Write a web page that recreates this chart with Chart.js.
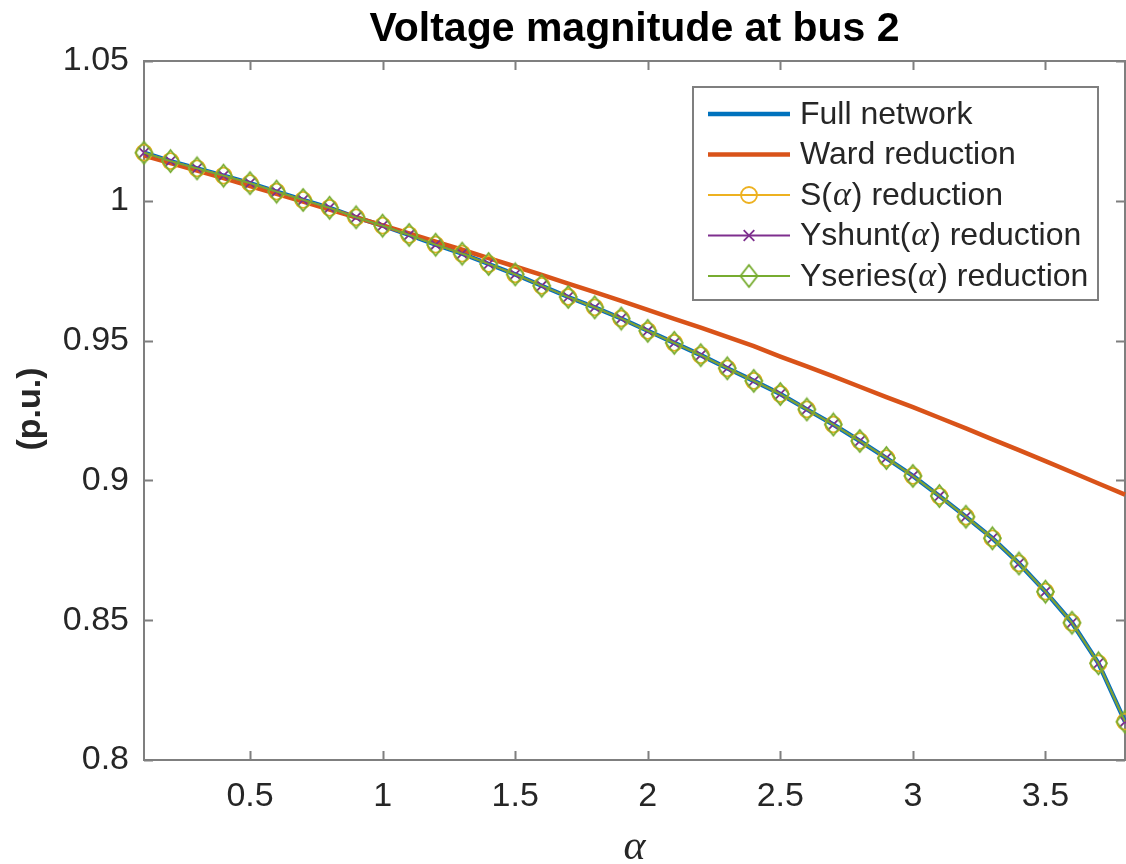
<!DOCTYPE html>
<html>
<head>
<meta charset="utf-8">
<title>Voltage magnitude at bus 2</title>
<script src="https://cdn.jsdelivr.net/npm/chart.js@4.4.1/dist/chart.umd.min.js"></script>
<style>
    html, body { margin: 0; padding: 0; background: #fff; overflow: hidden; }
    canvas { display: block; }
</style>
</head>
<body>
<canvas id="voltage" width="1126" height="864"></canvas>
<script>
// loading factor alpha
const alphaValues = [0.1, 0.2, 0.3, 0.4, 0.5, 0.6, 0.7, 0.8, 0.9, 1.0,
    1.1, 1.2, 1.3, 1.4, 1.5, 1.6, 1.7, 1.8, 1.9, 2.0,
    2.1, 2.2, 2.3, 2.4, 2.5, 2.6, 2.7, 2.8, 2.9, 3.0,
    3.1, 3.2, 3.3, 3.4, 3.5, 3.6, 3.7, 3.8];

// |V2| in p.u.
const fullNetwork = [1.0172, 1.0142, 1.0116, 1.0090, 1.0063, 1.0033, 1.0003, 0.9975, 0.9941, 0.9911,
    0.9878, 0.9843, 0.9811, 0.9774, 0.9737, 0.9696, 0.9656, 0.9619, 0.9579, 0.9535,
    0.9492, 0.9448, 0.9401, 0.9356, 0.9309, 0.9254, 0.9200, 0.9141, 0.9080, 0.9016,
    0.8944, 0.8870, 0.8793, 0.8703, 0.8602, 0.8491, 0.8346, 0.8137];

const wardReduction = [1.0162, 1.0135, 1.0108, 1.0081, 1.0053, 1.0025, 0.9997, 0.9969, 0.9941, 0.9912,
    0.9883, 0.9854, 0.9825, 0.9795, 0.9765, 0.9735, 0.9704, 0.9673, 0.9642, 0.9610,
    0.9578, 0.9546, 0.9513, 0.9480, 0.9443, 0.9408, 0.9372, 0.9335, 0.9298, 0.9262,
    0.9224, 0.9186, 0.9147, 0.9108, 0.9069, 0.9029, 0.8989, 0.8949];

// the three alpha-dependent reductions coincide with the full network
const sAlphaReduction = [...fullNetwork];
const yShuntReduction = [...fullNetwork];
const ySeriesReduction = [...fullNetwork];

const xTicks = [0.5, 1, 1.5, 2, 2.5, 3, 3.5];
const yTicks = [0.8, 0.85, 0.9, 0.95, 1, 1.05];

const SANS = "'Liberation Sans', Arial, Helvetica, sans-serif";
const SERIF = "'Liberation Serif', 'Times New Roman', serif";
const AXIS_GRAY = '#7f7f7f';

Chart.defaults.font.family = SANS;

// MATLAB-style diamond: a little taller than wide
function diamondMarker(color, w, h, lw) {
    const c = document.createElement('canvas');
    c.width = w + 4;
    c.height = h + 4;
    const g = c.getContext('2d');
    const cx = c.width / 2, cy = c.height / 2;
    g.strokeStyle = color;
    g.lineWidth = lw;
    g.beginPath();
    g.moveTo(cx, cy - h / 2);
    g.lineTo(cx + w / 2, cy);
    g.lineTo(cx, cy + h / 2);
    g.lineTo(cx - w / 2, cy);
    g.closePath();
    g.stroke();
    return c;
}

function toPoints(values) {
    return alphaValues.map((a, i) => ({ x: a, y: values[i] }));
}

function makeSeries(label, values, color, order, extra) {
    return Object.assign({
        label: label,
        data: toPoints(values),
        borderColor: color,
        backgroundColor: color,
        borderWidth: 1.8,
        pointRadius: 0,
        tension: 0,
        fill: false,
        clip: false,
        order: order
    }, extra || {});
}

const datasets = [
    makeSeries('Full network', fullNetwork, '#0072BD', 5, { borderWidth: 4.5 }),
    makeSeries('Ward reduction', wardReduction, '#D95319', 4, { borderWidth: 4.5 }),
    makeSeries('S(α) reduction', sAlphaReduction, '#EDB120', 3, {
        pointStyle: 'circle', pointRadius: 8, pointBorderWidth: 1.8, pointBackgroundColor: 'rgba(0,0,0,0)'
    }),
    makeSeries('Yshunt(α) reduction', yShuntReduction, '#7E2F8E', 2, {
        pointStyle: 'crossRot', pointRadius: 7.5, pointBorderWidth: 1.8
    }),
    makeSeries('Yseries(α) reduction', ySeriesReduction, '#77AC30', 1, {
        pointStyle: diamondMarker('#77AC30', 17, 22, 1.8), pointRadius: 9, pointBorderWidth: 1.8
    })
];

// box with inward ticks on all four sides, drawn under the data
const axesBox = {
    id: 'axesBox',
    beforeDatasetsDraw(chart) {
        const { ctx, chartArea: a, scales } = chart;
        ctx.save();
        ctx.strokeStyle = AXIS_GRAY;
        ctx.lineWidth = 2;
        ctx.strokeRect(a.left, a.top, a.right - a.left, a.bottom - a.top);
        ctx.beginPath();
        xTicks.forEach(v => {
            const px = Math.round(scales.x.getPixelForValue(v)) + 0.5;
            ctx.moveTo(px, a.bottom); ctx.lineTo(px, a.bottom - 9);
            ctx.moveTo(px, a.top); ctx.lineTo(px, a.top + 9);
        });
        yTicks.forEach(v => {
            const py = Math.round(scales.y.getPixelForValue(v)) + 0.5;
            ctx.moveTo(a.left, py); ctx.lineTo(a.left + 9, py);
            ctx.moveTo(a.right, py); ctx.lineTo(a.right - 9, py);
        });
        ctx.stroke();
        ctx.restore();
    }
};

// text runs where the Greek alpha is set in italic serif
function drawMixed(ctx, text, x, y, size, weight) {
    const parts = text.split('α');
    let cx = x;
    parts.forEach((part, i) => {
        ctx.font = `${weight} ${size}px ${SANS}`;
        ctx.fillText(part, cx, y);
        cx += ctx.measureText(part).width;
        if (i < parts.length - 1) {
            ctx.font = `italic ${size + 2}px ${SERIF}`;
            ctx.fillText('α', cx + 1, y);
            cx += ctx.measureText('α').width + 2;
        }
    });
}

const annotations = {
    id: 'annotations',
    afterDraw(chart) {
        const { ctx, chartArea: a } = chart;
        const midX = (a.left + a.right) / 2;
        ctx.save();
        ctx.fillStyle = '#000';
        ctx.textAlign = 'center';
        ctx.textBaseline = 'middle';

        // title
        ctx.font = `bold 41px ${SANS}`;
        ctx.fillText('Voltage magnitude at bus 2', midX, 30, 545);

        // x label
        ctx.fillStyle = '#262626';
        ctx.font = `italic 42px ${SERIF}`;
        ctx.fillText('α', midX, 848);

        // y label
        ctx.save();
        ctx.translate(31, 409);
        ctx.rotate(-Math.PI / 2);
        ctx.font = `bold 34px ${SANS}`;
        ctx.fillText('(p.u.)', 0, 0, 88);
        ctx.restore();

        // legend
        const box = { left: 693, top: 87, right: 1098, bottom: 300 };
        ctx.fillStyle = '#fff';
        ctx.fillRect(box.left, box.top, box.right - box.left, box.bottom - box.top);
        ctx.strokeStyle = AXIS_GRAY;
        ctx.lineWidth = 2;
        ctx.strokeRect(box.left, box.top, box.right - box.left, box.bottom - box.top);

        ctx.textAlign = 'left';
        chart.data.datasets.forEach((ds, i) => {
            const rowY = 114 + i * 40.5;
            ctx.strokeStyle = ds.borderColor;
            ctx.lineWidth = ds.borderWidth;
            ctx.beginPath();
            ctx.moveTo(708, rowY);
            ctx.lineTo(790, rowY);
            ctx.stroke();
            if (ds.pointRadius > 0) {
                ctx.fillStyle = 'rgba(0,0,0,0)';
                ctx.lineWidth = ds.pointBorderWidth;
                Chart.helpers.drawPoint(ctx, {
                    pointStyle: ds.pointStyle,
                    radius: ds.pointRadius,
                    rotation: 0,
                    borderWidth: ds.pointBorderWidth
                }, 749, rowY);
            }
            ctx.fillStyle = '#262626';
            drawMixed(ctx, ds.label, 800, rowY + 1, 32, 'normal');
        });
        ctx.restore();
    }
};

const ctx = document.getElementById('voltage').getContext('2d');
new Chart(ctx, {
    type: 'line',
    data: { datasets: datasets },
    options: {
        responsive: false,
        animation: false,
        events: [],
        layout: {
            autoPadding: false,
            padding: { top: 61, right: 1, left: 0, bottom: 0 }
        },
        scales: {
            x: {
                type: 'linear',
                position: 'bottom',
                min: 0.1,
                max: 3.8,
                afterBuildTicks: scale => { scale.ticks = xTicks.map(v => ({ value: v })); },
                afterFit: scale => { scale.height = 104; },
                grid: { display: false, drawTicks: false },
                border: { display: false },
                ticks: {
                    padding: 16,
                    color: '#262626',
                    font: { size: 34 },
                    maxRotation: 0,
                    callback: v => String(v)
                }
            },
            y: {
                type: 'linear',
                min: 0.8,
                max: 1.05,
                afterBuildTicks: scale => { scale.ticks = yTicks.map(v => ({ value: v })); },
                afterFit: scale => { scale.width = 144; },
                grid: { display: false, drawTicks: false },
                border: { display: false },
                ticks: {
                    padding: 15,
                    color: '#262626',
                    font: { size: 34 },
                    callback: v => String(v)
                }
            }
        },
        plugins: {
            legend: { display: false },
            title: { display: false },
            tooltip: { enabled: false }
        }
    },
    plugins: [axesBox, annotations]
});
</script>
</body>
</html>
